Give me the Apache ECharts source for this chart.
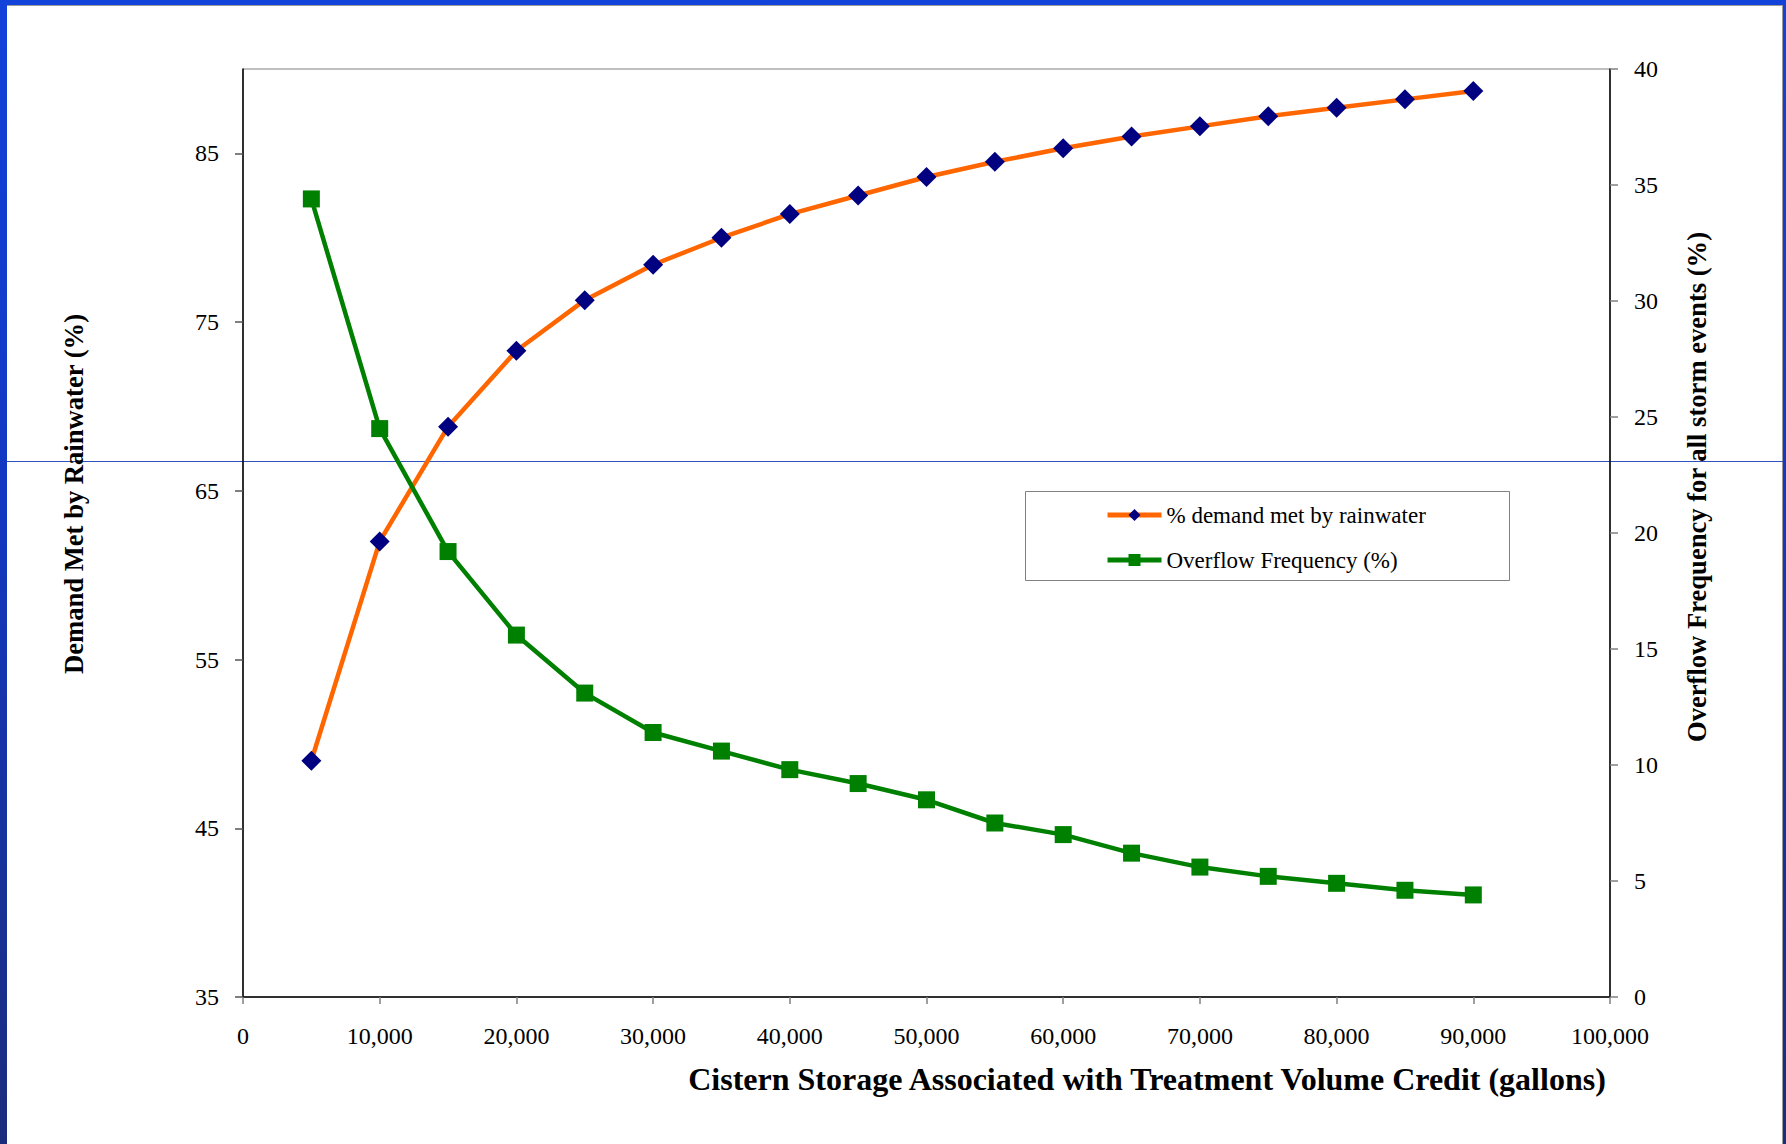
<!DOCTYPE html>
<html>
<head>
<meta charset="utf-8">
<title>Cistern storage vs. demand met and overflow frequency</title>
<script src="https://cdn.jsdelivr.net/npm/echarts@6/dist/echarts.min.js"></script>
<style>
  html, body { margin: 0; padding: 0; width: 1786px; height: 1144px; overflow: hidden; }
  #frame { position: absolute; left: 0; top: 0; width: 1786px; height: 1144px;
           background: linear-gradient(to bottom, #1142da 0%, #1338c0 45%, #1a2c7c 100%); }
  #paper { position: absolute; left: 7px; top: 5px; width: 1776px; height: 1139px; box-sizing: border-box;
           background: #ffffff; border-top: 1px solid #9a9a9a; border-right: 1px solid #9a9a9a; }
  #chart { position: absolute; left: 0; top: 0; width: 1786px; height: 1144px; }
</style>
</head>
<body>
<div id="frame"></div>
<div id="paper"></div>
<div id="chart"></div>
<script>
// Cistern storage (gallons) for each simulated design size
const storageGallons = [5000, 10000, 15000, 20000, 25000, 30000, 35000, 40000, 45000,
                        50000, 55000, 60000, 65000, 70000, 75000, 80000, 85000, 90000];
// % of demand met by rainwater (left axis)
const demandMetPct = [49.0, 62.0, 68.8, 73.3, 76.3, 78.4, 80.0, 81.4, 82.5,
                      83.6, 84.5, 85.3, 86.0, 86.6, 87.2, 87.7, 88.2, 88.7];
// overflow frequency for all storm events, % (right axis)
const overflowFreqPct = [34.4, 24.5, 19.2, 15.6, 13.1, 11.4, 10.6, 9.8, 9.2,
                         8.5, 7.5, 7.0, 6.2, 5.6, 5.2, 4.9, 4.6, 4.4];
// labelled ticks on the left axis (the axis runs on to 90 without a tick there)
const demandTicks = [35, 45, 55, 65, 75, 85];

const seriesNames = ['% demand met by rainwater', 'Overflow Frequency (%)'];
const xTitle = 'Cistern Storage Associated with Treatment Volume Credit (gallons)';
const leftTitle = 'Demand Met by Rainwater (%)';
const rightTitle = 'Overflow Frequency for all storm events (%)';

const FONT = "'Liberation Serif', 'Times New Roman', serif";
const withCommas = v => String(v).replace(/\B(?=(\d{3})+(?!\d))/g, ',');

const chart = echarts.init(document.getElementById('chart'), null, { renderer: 'svg' });

const labelStyle = { color: '#000', fontSize: 24, fontFamily: FONT };

chart.setOption({
  animation: false,
  grid: { left: 243, top: 69, right: 176, bottom: 147, containLabel: false,
          show: true, borderColor: '#808080', borderWidth: 1, backgroundColor: 'transparent' },
  xAxis: {
    type: 'value', min: 0, max: 100000, interval: 10000,
    axisLine: { show: true, onZero: false, lineStyle: { color: '#000', width: 1.5 } },
    axisTick: { show: true, inside: false, length: 7, lineStyle: { color: '#808080', width: 1.5 } },
    axisLabel: Object.assign({ margin: 27, formatter: withCommas }, labelStyle),
    splitLine: { show: false }
  },
  yAxis: [
    {
      type: 'value', position: 'left', min: 35, max: 90, interval: 10,
      axisLine: { show: true, onZero: false, lineStyle: { color: '#000', width: 1.5 } },
      axisTick: { show: true, inside: false, length: 8, customValues: demandTicks,
                  lineStyle: { color: '#555', width: 1.5 } },
      axisLabel: Object.assign({ margin: 24, customValues: demandTicks }, labelStyle),
      splitLine: { show: false }
    },
    {
      type: 'value', position: 'right', min: 0, max: 40, interval: 5,
      axisLine: { show: true, onZero: false, lineStyle: { color: '#000', width: 1.5 } },
      axisTick: { show: true, inside: false, length: 8, lineStyle: { color: '#808080', width: 1.5 } },
      axisLabel: Object.assign({ margin: 24 }, labelStyle),
      splitLine: { show: false }
    }
  ],
  legend: {
    orient: 'vertical', left: 1105, top: 503.5, padding: 0,
    itemWidth: 54, itemHeight: 15, itemGap: 22,
    lineStyle: { width: 5 },
    textStyle: { color: '#000', fontSize: 23, fontFamily: FONT },
    data: seriesNames
  },
  series: [
    {
      name: seriesNames[0], type: 'line', yAxisIndex: 0,
      data: storageGallons.map((x, i) => [x, demandMetPct[i]]),
      symbol: 'diamond', symbolSize: 20,
      lineStyle: { color: '#ff6600', width: 4.5 },
      itemStyle: { color: '#000080' },
      z: 3
    },
    {
      name: seriesNames[1], type: 'line', yAxisIndex: 1,
      data: storageGallons.map((x, i) => [x, overflowFreqPct[i]]),
      symbol: 'rect', symbolSize: 17,
      lineStyle: { color: '#008000', width: 4.5 },
      itemStyle: { color: '#008000' },
      z: 4
    }
  ],
  graphic: [
    // thin guide rule running across the whole slide
    { type: 'line', z: 0, silent: true, shape: { x1: 7, y1: 461.5, x2: 1783, y2: 461.5 },
      style: { stroke: '#2f52c0', lineWidth: 1.2 } },
    { type: 'rect', z: 1, shape: { x: 1025.5, y: 491.5, width: 484, height: 89 },
      style: { fill: '#fff', stroke: '#808080', lineWidth: 1 } },
    { type: 'text', x: 1147, y: 1079,
      style: { text: xTitle, fill: '#000', font: 'bold 32px ' + FONT, align: 'center', verticalAlign: 'middle' } },
    { type: 'text', x: 74, y: 494, rotation: Math.PI / 2,
      style: { text: leftTitle, fill: '#000', font: 'bold 26.6px ' + FONT, align: 'center', verticalAlign: 'middle' } },
    { type: 'text', x: 1697, y: 487, rotation: Math.PI / 2,
      style: { text: rightTitle, fill: '#000', font: 'bold 26.6px ' + FONT, align: 'center', verticalAlign: 'middle' } }
  ]
});
</script>
</body>
</html>
